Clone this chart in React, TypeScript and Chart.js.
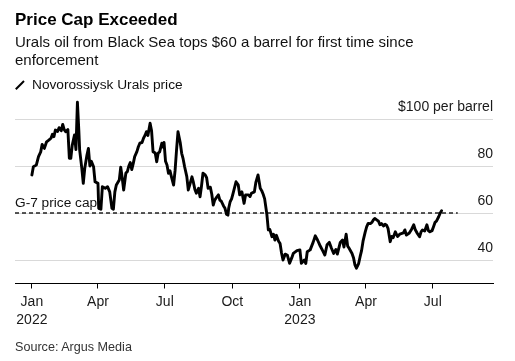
import React, { useEffect, useRef } from 'react';
import { Chart, registerables } from 'chart.js';

Chart.register(...registerables);

const FONT = "'Liberation Sans', Arial, Helvetica, sans-serif";

// Days since 2022-01-01
const DAYS = [
  0, 2, 6, 9, 12, 14, 17, 20, 23, 26, 28, 30, 32, 35, 37, 40, 42, 44, 46, 49,
  51, 53, 55, 58, 60, 62, 64, 65, 68, 70, 72, 75, 77, 79, 81, 84, 86, 90, 91, 94,
  96, 100, 103, 106, 109, 111, 113, 115, 119, 121, 123, 125, 128, 130, 132, 134, 136, 138, 140, 143,
  145, 147, 150, 152, 154, 156, 158, 161, 163, 165, 168, 170, 172, 174, 177, 179, 180, 182, 184, 186,
  188, 190, 193, 195, 197, 199, 202, 204, 206, 208, 211, 213, 215, 218, 220, 222, 224, 227, 229, 231,
  233, 236, 238, 240, 243, 245, 247, 249, 252, 254, 256, 258, 261, 263, 265, 267, 268, 270, 272, 274,
  278, 281, 283, 286, 289, 291, 295, 297, 299, 303, 305, 308, 311, 313, 315, 317, 320, 322, 324, 327,
  329, 331, 333, 336, 338, 340, 342, 345, 348, 351, 354, 356, 361, 365, 367, 371, 373, 375, 379, 383,
  386, 389, 392, 396, 399, 402, 405, 408, 411, 414, 416, 420, 423, 425, 428, 430, 432, 436, 438, 440,
  442, 445, 447, 449, 451, 454, 456, 458, 461, 463, 465, 467, 470, 472, 474, 476, 479, 481, 483, 485,
  488, 490, 492, 495, 498, 501, 506, 508, 510, 514, 517, 520, 522, 525, 528, 530, 532, 535, 538, 540,
  542, 545, 547, 549, 551, 554, 556, 558,
];

// Novorossiysk Urals price, $ per barrel
const PRICES = [
  76.2, 79.7, 80.4, 84, 86, 89.2, 87.5, 90.3, 91, 91.8, 93.5, 92.5, 95.3, 94.7, 96.3, 95, 97.7, 95.5, 94.6, 95.5,
  83.3, 83.3, 88.9, 93.2, 87, 107.1, 94.6, 87, 79, 72.6, 79, 84.7, 87.5, 80, 82, 79.7, 73.3, 72.6, 62, 61.6,
  71.2, 70.5, 71.2, 69, 62, 61.6, 69, 71.9, 74, 79.5, 75, 69.8, 77, 77.6, 80, 81.5, 78.5, 81, 84, 86.1,
  88.2, 89.7, 90, 91.8, 93, 94.6, 93, 98.2, 95, 86.1, 85.5, 81.8, 85.5, 86, 89.7, 88, 90, 82, 80.4, 76.9,
  78, 75.5, 71.9, 78, 86.8, 94.6, 90, 85.4, 83, 79.7, 75.5, 69.8, 72, 75.4, 73, 70, 68.4, 70.5, 66.9, 71.5,
  76.9, 76.2, 75, 70.5, 71, 68, 63.4, 65.5, 66.9, 67.7, 65.5, 65, 63, 62, 59.5, 59.1, 62, 64.8, 66, 68.4,
  73.3, 72, 67.7, 69, 64.1, 67.7, 67.7, 67, 68.4, 69, 73, 76.2, 70.5, 69.5, 68, 66, 59.5, 52.8, 53, 49.9,
  51, 48.5, 50.5, 48, 47, 43, 40, 42.5, 42, 38.6, 41, 42.8, 44, 44.3, 38.6, 40, 38.5, 43.5, 44.3, 47.5,
  50.3, 48.5, 46.4, 44, 42.1, 46.5, 47.5, 45, 42.8, 44.5, 42.5, 47.5, 48.5, 45.5, 51, 46, 45, 42.8, 41, 37.9,
  36.5, 38.5, 41.4, 44, 48, 52, 54.2, 55.6, 55.5, 56, 57, 57.7, 57, 56.5, 55, 55.5, 54.5, 55.2, 54.8, 53.5,
  47.8, 50, 49.5, 52, 50, 51, 51.5, 52.8, 50.6, 51.5, 53, 55, 53, 51.3, 49.9, 52, 52.8, 52.3, 55, 52.5,
  52, 52.5, 54.2, 56, 56.5, 58.4, 59.9, 61,
];

const CAP_PRICE = 60;
const CAP_DAYS = [-23, 580];
const CAP_LABEL = 'G-7 price cap';
const X_RANGE = [-23, 628];
const Y_RANGE = [30, 110];
const X_TICK_DAYS = [0, 90, 181, 273, 365, 455, 546];
const X_TICK_LABELS = [['Jan', '2022'], ['Apr'], ['Jul'], ['Oct'], ['Jan', '2023'], ['Apr'], ['Jul']];
const Y_TICKS = [40, 60, 80, 100];
const Y_TOP_LABEL = '$100 per barrel';

const capLabelPlugin = {
  id: 'capLabel',
  afterDatasetsDraw(chart: any) {
    const { ctx, chartArea, scales } = chart;
    const y = scales.y.getPixelForValue(CAP_PRICE);
    ctx.save();
    ctx.font = `13.7px ${FONT}`;
    ctx.fillStyle = '#111';
    ctx.textAlign = 'left';
    ctx.textBaseline = 'alphabetic';
    ctx.fillText(CAP_LABEL, chartArea.left, y - 5.7);
    ctx.restore();
  },
};

function App() {
  const canvasRef = useRef<HTMLCanvasElement | null>(null);

  useEffect(() => {
    if (!canvasRef.current) return;
    const chart = new Chart(canvasRef.current, {
      type: 'line',
      data: {
        datasets: [
          {
            label: 'Novorossiysk Urals price',
            data: DAYS.map((d, i) => ({ x: d, y: PRICES[i] })),
            borderColor: '#000',
            borderWidth: 2.9,
            pointRadius: 0,
            tension: 0,
            borderJoinStyle: 'round',
            borderCapStyle: 'round',
          },
          {
            label: 'G-7 price cap',
            data: CAP_DAYS.map((d) => ({ x: d, y: CAP_PRICE })),
            borderColor: '#222',
            borderWidth: 1.5,
            borderDash: [4, 3],
            pointRadius: 0,
          },
        ],
      },
      options: {
        animation: false,
        responsive: false,
        parsing: false,
        layout: { padding: { left: 15, right: 22, top: 95.5, bottom: 32.5 } },
        plugins: { legend: { display: false }, tooltip: { enabled: false } },
        scales: {
          x: {
            type: 'linear',
            min: X_RANGE[0],
            max: X_RANGE[1],
            afterBuildTicks: (s: any) => {
              s.ticks = X_TICK_DAYS.map((v) => ({ value: v }));
            },
            afterFit: (s: any) => {
              s.height = 45;
            },
            ticks: {
              autoSkip: false,
              maxRotation: 0,
              padding: 5,
              color: '#1a1a1a',
              font: { family: FONT, size: 14, lineHeight: 1.25 },
              callback: (_v: any, i: number) => X_TICK_LABELS[i],
            },
            grid: { drawOnChartArea: false, drawTicks: true, tickLength: 5, color: '#000' },
            border: { display: true, color: '#000', width: 1 },
          },
          y: {
            type: 'linear',
            position: 'right',
            min: Y_RANGE[0],
            max: Y_RANGE[1],
            afterBuildTicks: (s: any) => {
              s.ticks = Y_TICKS.map((v) => ({ value: v }));
            },
            afterFit: (s: any) => {
              s.width = 0;
            },
            ticks: {
              mirror: true,
              padding: 0,
              labelOffset: -12,
              color: '#1a1a1a',
              font: { family: FONT, size: 14 },
              callback: (v: any) => (v === 100 ? Y_TOP_LABEL : String(v)),
            },
            grid: { color: '#d9d9d9', drawTicks: false, lineWidth: 1 },
            border: { display: false },
          },
        },
      } as any,
      plugins: [capLabelPlugin],
    });
    return () => chart.destroy();
  }, []);

  return (
    <div
      style={{
        position: 'fixed',
        left: 0,
        top: 0,
        width: 515,
        height: 361,
        background: '#fff',
        fontFamily: FONT,
        overflow: 'hidden',
      }}
    >
      <canvas ref={canvasRef} width={515} height={361} style={{ position: 'absolute', left: 0, top: 0, width: 515, height: 361 }} />
      <div style={{ position: 'absolute', left: 15, top: 11.1, fontSize: 17, lineHeight: '17px', fontWeight: 'bold', color: '#000', whiteSpace: 'nowrap' }}>
        Price Cap Exceeded
      </div>
      <div style={{ position: 'absolute', left: 15, top: 33.1, fontSize: 15, lineHeight: '18px', color: '#111', whiteSpace: 'nowrap' }}>
        Urals oil from Black Sea tops $60 a barrel for first time since
        <br />
        enforcement
      </div>
      <svg style={{ position: 'absolute', left: 15, top: 80 }} width={10} height={10}>
        <line x1={0.8} y1={9.3} x2={9} y2={1} stroke="#000" strokeWidth={2} />
      </svg>
      <div style={{ position: 'absolute', left: 32, top: 76.7, fontSize: 13.7, lineHeight: '16px', color: '#111', whiteSpace: 'nowrap' }}>
        Novorossiysk Urals price
      </div>
      <div style={{ position: 'absolute', left: 15, top: 340, fontSize: 12.6, lineHeight: '15px', color: '#333', whiteSpace: 'nowrap' }}>
        Source: Argus Media
      </div>
    </div>
  );
}

export default App;
